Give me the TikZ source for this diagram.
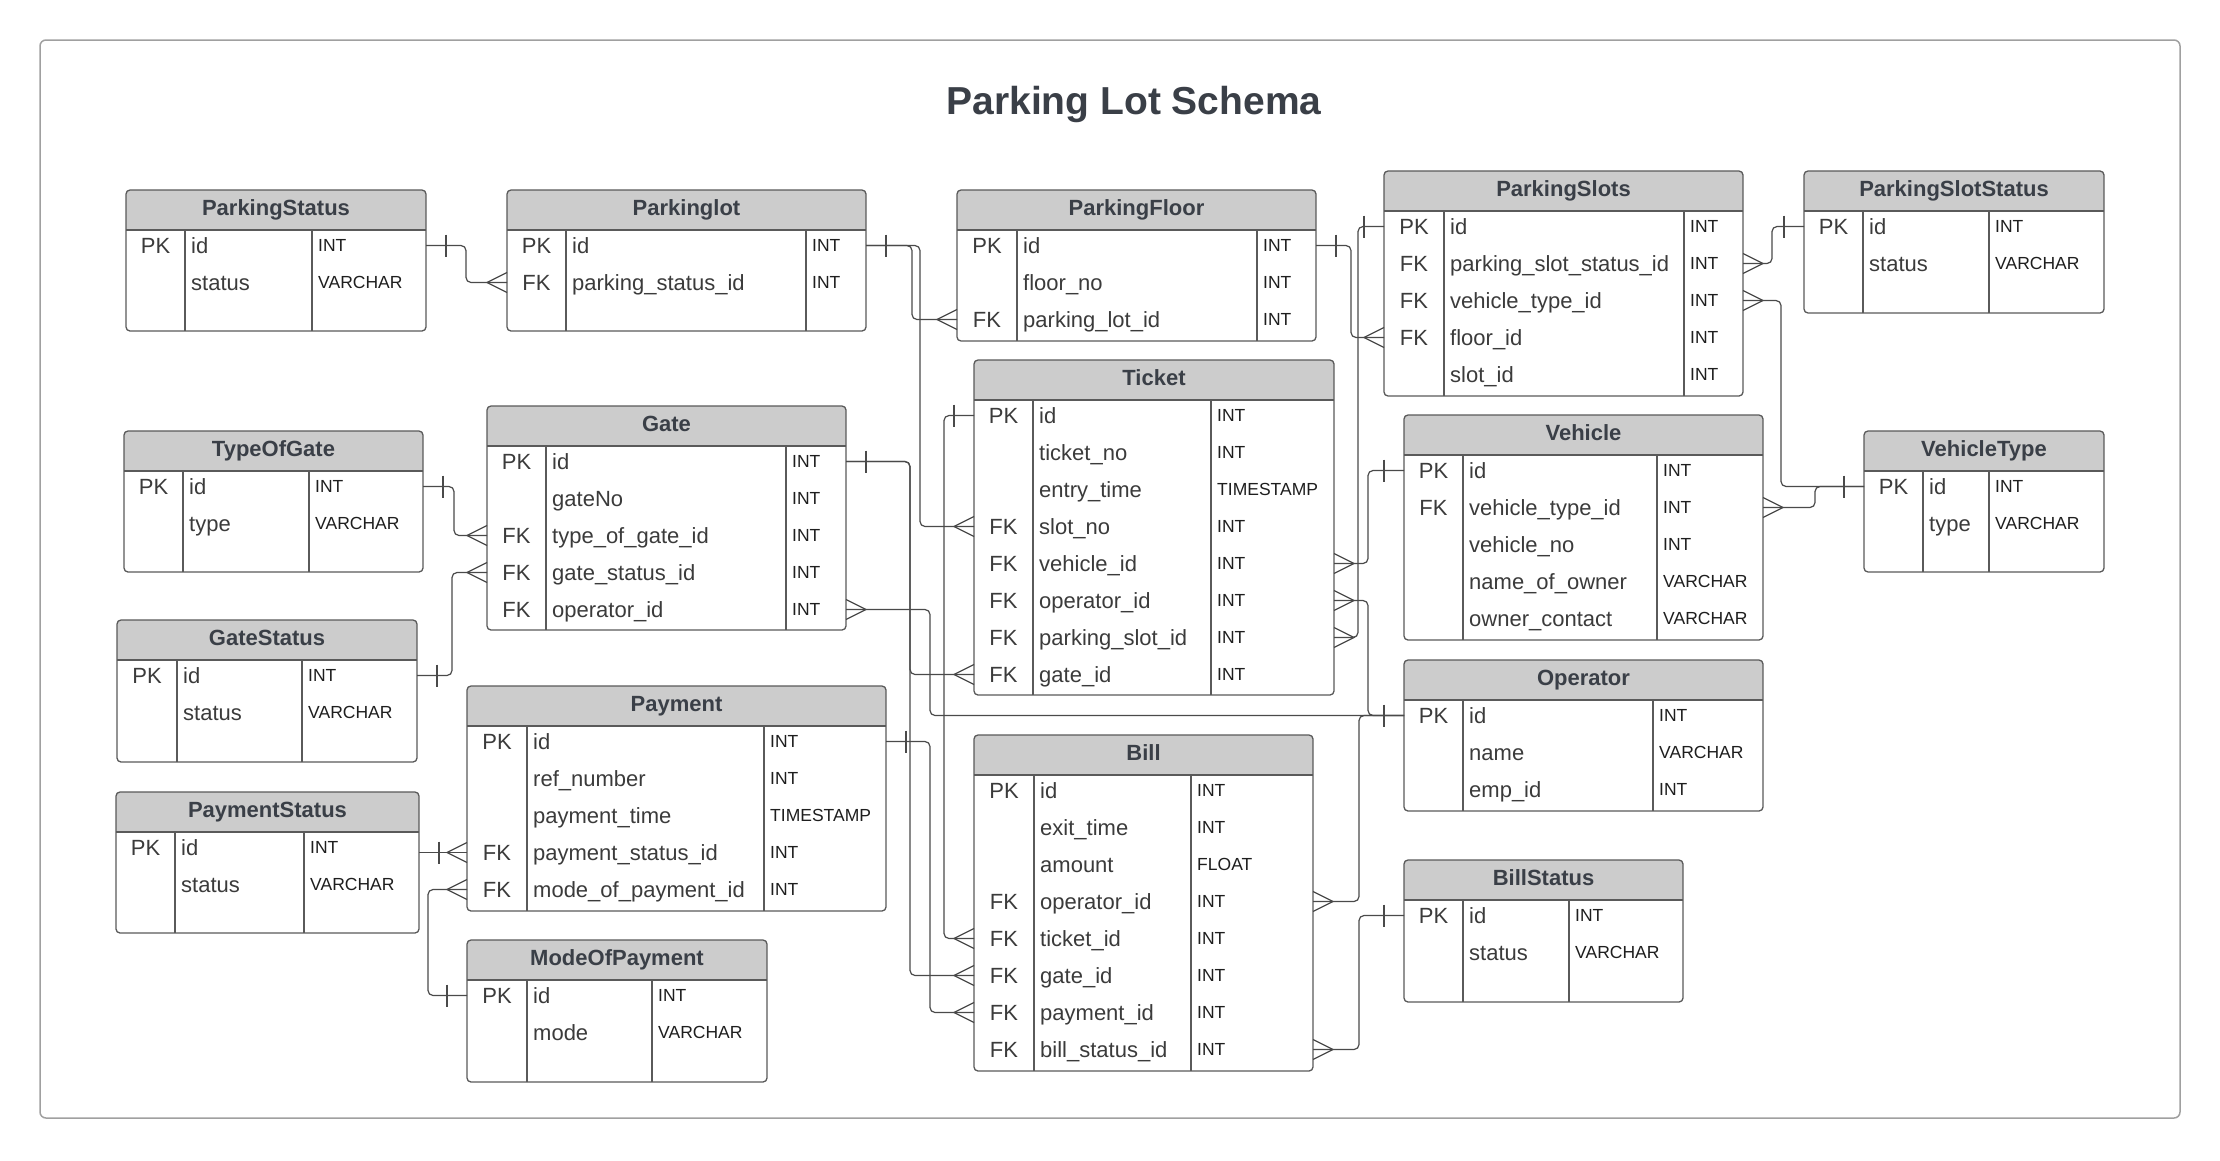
\documentclass[tikz,border=0pt]{standalone}
\usepackage{fontspec}
\setmainfont{Liberation Sans}
\definecolor{headfill}{HTML}{CCCCCC}
\definecolor{linecol}{HTML}{5A5A5A}
\definecolor{conncol}{HTML}{4A4A4A}
\definecolor{headtxtcol}{HTML}{3A3F47}
\definecolor{fldcol}{HTML}{3B3B3B}
\definecolor{typcol}{HTML}{1E1E1E}
\definecolor{framecol}{HTML}{A0A0A0}
\tikzset{
  tblbox/.style={draw=none, fill=white, inner sep=0pt, outer sep=0pt},
  tblline/.style={draw=linecol, line width=1.3pt},
  headtxt/.style={font=\fontsize{22}{26}\selectfont\bfseries, text=headtxtcol, inner sep=0pt, text height=15.8pt, text depth=0pt},
  keytxt/.style={font=\fontsize{22}{26}\selectfont, text=fldcol, inner sep=0pt, text height=15.8pt, text depth=0pt},
  fldtxt/.style={font=\fontsize{22}{26}\selectfont, text=fldcol, inner sep=0pt, text height=15.8pt, text depth=0pt, anchor=west},
  typtxt/.style={font=\fontsize{17.5}{21}\selectfont, text=typcol, inner sep=0pt, text height=12.5pt, text depth=0pt, anchor=west},
  conn/.style={draw=conncol, line width=1.2pt, rounded corners=5pt},
  marker/.style={draw=conncol, line width=1.2pt},
}
\newcommand\ertable[8]{%
  \node[tblbox, minimum width={(#4-#2)*1pt}, minimum height={(#5-#3)*1pt}] (#1) at ({(#2+#4)/2},{(#3+#5)/2}) {};
  \begin{scope}
    \clip[rounded corners=4pt] (#2,#3) rectangle (#4,#5);
    \fill[headfill] (#2,#3) rectangle (#4,#3+40);
  \end{scope}
  \draw[tblline, rounded corners=4pt] (#1.north west) rectangle (#1.south east);
  \draw[tblline] (#2,#3+40) -- (#4,#3+40) (#6,#3+40) -- (#6,#5) (#7,#3+40) -- (#7,#5);
  \node[headtxt] (#1-h) at ({(#2+#4)/2},#3+18) {#8};
  \coordinate (#1-kc) at ({(#2+#6)/2},#3+55.5);
  \coordinate (#1-fc) at (#6+6,#3+55.5);
  \coordinate (#1-tc) at (#7+6,#3+55.5);
}
\newcommand\errow[5]{%
  \node[keytxt] (#1-k#2) at ([yshift={-(#2-1)*37pt}]#1-kc) {#3};
  \node[fldtxt] (#1-f#2) at ([yshift={-(#2-1)*37pt}]#1-fc) {#4};
  \node[typtxt] (#1-t#2) at ([yshift={-(#2-1)*37pt}]#1-tc) {#5};
}
% one / many markers: #1 coordinate on box edge, #2 = +1 (east side) or -1 (west side)
\newcommand\oneat[2]{%
  \draw[marker] ([xshift={#2*20pt},yshift=11pt]#1) -- ([xshift={#2*20pt},yshift=-11pt]#1);}
\newcommand\manyat[2]{%
  \draw[marker] ([yshift=10pt]#1) -- ([xshift={#2*20pt}]#1) -- ([yshift=-10pt]#1);}
% elbow connector: #1 start, #2 lane, #3 end
\newcommand\elbow[3]{%
  \draw[conn] (#1) -- (#1 -| #2) -- (#3 -| #2) -- (#3);}
\begin{document}
\begin{tikzpicture}[x=1pt,y=-1pt]
\useasboundingbox (0,0) rectangle (2220,1160);
\fill[white] (0,0) rectangle (2220,1160);
\draw[draw=framecol, line width=1.5pt, rounded corners=6pt] (40,40) rectangle (2180,1118);
\node[font=\fontsize{39}{46}\selectfont\bfseries, text=headtxtcol, inner sep=0pt] (title) at (1134,104) {Parking Lot Schema};

% ---------------- tables ----------------
\ertable{ps}{126}{190}{426}{331}{185}{312}{ParkingStatus}
\errow{ps}{1}{PK}{id}{INT}
\errow{ps}{2}{}{status}{VARCHAR}

\ertable{pl}{507}{190}{866}{331}{566}{806}{Parkinglot}
\errow{pl}{1}{PK}{id}{INT}
\errow{pl}{2}{FK}{parking\_status\_id}{INT}

\ertable{pf}{957}{190}{1316}{341}{1017}{1257}{ParkingFloor}
\errow{pf}{1}{PK}{id}{INT}
\errow{pf}{2}{}{floor\_no}{INT}
\errow{pf}{3}{FK}{parking\_lot\_id}{INT}

\ertable{slots}{1384}{171}{1743}{396}{1444}{1684}{ParkingSlots}
\errow{slots}{1}{PK}{id}{INT}
\errow{slots}{2}{FK}{parking\_slot\_status\_id}{INT}
\errow{slots}{3}{FK}{vehicle\_type\_id}{INT}
\errow{slots}{4}{FK}{floor\_id}{INT}
\errow{slots}{5}{}{slot\_id}{INT}

\ertable{pss}{1804}{171}{2104}{313}{1863}{1989}{ParkingSlotStatus}
\errow{pss}{1}{PK}{id}{INT}
\errow{pss}{2}{}{status}{VARCHAR}

\ertable{vt}{1864}{431}{2104}{572}{1923}{1989}{VehicleType}
\errow{vt}{1}{PK}{id}{INT}
\errow{vt}{2}{}{type}{VARCHAR}

\ertable{tog}{124}{431}{423}{572}{183}{309}{TypeOfGate}
\errow{tog}{1}{PK}{id}{INT}
\errow{tog}{2}{}{type}{VARCHAR}

\ertable{gate}{487}{406}{846}{630}{546}{786}{Gate}
\errow{gate}{1}{PK}{id}{INT}
\errow{gate}{2}{}{gateNo}{INT}
\errow{gate}{3}{FK}{type\_of\_gate\_id}{INT}
\errow{gate}{4}{FK}{gate\_status\_id}{INT}
\errow{gate}{5}{FK}{operator\_id}{INT}

\ertable{gs}{117}{620}{417}{762}{177}{302}{GateStatus}
\errow{gs}{1}{PK}{id}{INT}
\errow{gs}{2}{}{status}{VARCHAR}

\ertable{tk}{974}{360}{1334}{695}{1033}{1211}{Ticket}
\errow{tk}{1}{PK}{id}{INT}
\errow{tk}{2}{}{ticket\_no}{INT}
\errow{tk}{3}{}{entry\_time}{TIMESTAMP}
\errow{tk}{4}{FK}{slot\_no}{INT}
\errow{tk}{5}{FK}{vehicle\_id}{INT}
\errow{tk}{6}{FK}{operator\_id}{INT}
\errow{tk}{7}{FK}{parking\_slot\_id}{INT}
\errow{tk}{8}{FK}{gate\_id}{INT}

\ertable{veh}{1404}{415}{1763}{640}{1463}{1657}{Vehicle}
\errow{veh}{1}{PK}{id}{INT}
\errow{veh}{2}{FK}{vehicle\_type\_id}{INT}
\errow{veh}{3}{}{vehicle\_no}{INT}
\errow{veh}{4}{}{name\_of\_owner}{VARCHAR}
\errow{veh}{5}{}{owner\_contact}{VARCHAR}

\ertable{op}{1404}{660}{1763}{811}{1463}{1653}{Operator}
\errow{op}{1}{PK}{id}{INT}
\errow{op}{2}{}{name}{VARCHAR}
\errow{op}{3}{}{emp\_id}{INT}

\ertable{pay}{467}{686}{886}{911}{527}{764}{Payment}
\errow{pay}{1}{PK}{id}{INT}
\errow{pay}{2}{}{ref\_number}{INT}
\errow{pay}{3}{}{payment\_time}{TIMESTAMP}
\errow{pay}{4}{FK}{payment\_status\_id}{INT}
\errow{pay}{5}{FK}{mode\_of\_payment\_id}{INT}

\ertable{pstat}{116}{792}{419}{933}{175}{304}{PaymentStatus}
\errow{pstat}{1}{PK}{id}{INT}
\errow{pstat}{2}{}{status}{VARCHAR}

\ertable{mop}{467}{940}{767}{1082}{527}{652}{ModeOfPayment}
\errow{mop}{1}{PK}{id}{INT}
\errow{mop}{2}{}{mode}{VARCHAR}

\ertable{bill}{974}{735}{1313}{1071}{1034}{1191}{Bill}
\errow{bill}{1}{PK}{id}{INT}
\errow{bill}{2}{}{exit\_time}{INT}
\errow{bill}{3}{}{amount}{FLOAT}
\errow{bill}{4}{FK}{operator\_id}{INT}
\errow{bill}{5}{FK}{ticket\_id}{INT}
\errow{bill}{6}{FK}{gate\_id}{INT}
\errow{bill}{7}{FK}{payment\_id}{INT}
\errow{bill}{8}{FK}{bill\_status\_id}{INT}

\ertable{bs}{1404}{860}{1683}{1002}{1463}{1569}{BillStatus}
\errow{bs}{1}{PK}{id}{INT}
\errow{bs}{2}{}{status}{VARCHAR}

% ---------------- lanes ----------------
\coordinate (L428) at (428,0);
\coordinate (L452) at (452,0);
\coordinate (L454) at (454,0);
\coordinate (L466) at (466,0);
\coordinate (L910) at (910,0);
\coordinate (L912) at (912,0);
\coordinate (L920) at (920,0);
\coordinate (L930) at (930,0);
\coordinate (L944) at (944,0);
\coordinate (L1351) at (1351,0);
\coordinate (L1358) at (1358,0);
\coordinate (L1359) at (1359,0);
\coordinate (L1368) at (1368,0);
\coordinate (L1772) at (1772,0);
\coordinate (L1781) at (1781,0);
\coordinate (L1815) at (1815,0);

% ---------------- connector end points ----------------
\coordinate (psE) at (ps.east |- ps-f1);
\coordinate (plW2) at (pl.west |- pl-f2);
\coordinate (plE) at (pl.east |- pl-f1);
\coordinate (pfW3) at (pf.west |- pf-f3);
\coordinate (pfE) at (pf.east |- pf-f1);
\coordinate (slW1) at (slots.west |- slots-f1);
\coordinate (slW4) at (slots.west |- slots-f4);
\coordinate (slE2) at (slots.east |- slots-f2);
\coordinate (slE3) at (slots.east |- slots-f3);
\coordinate (pssW) at (pss.west |- pss-f1);
\coordinate (vtW) at (vt.west |- vt-f1);
\coordinate (vehW) at (veh.west |- veh-f1);
\coordinate (vehE2) at (veh.east |- veh-f2);
\coordinate (opW) at (op.west |- op-f1);
\coordinate (bsW) at (bs.west |- bs-f1);
\coordinate (tkW1) at (tk.west |- tk-f1);
\coordinate (tkW4) at (tk.west |- tk-f4);
\coordinate (tkW8) at (tk.west |- tk-f8);
\coordinate (tkE5) at (tk.east |- tk-f5);
\coordinate (tkE6) at (tk.east |- tk-f6);
\coordinate (tkE7) at (tk.east |- tk-f7);
\coordinate (gateE1) at (gate.east |- gate-f1);
\coordinate (gateE5) at (gate.east |- gate-f5);
\coordinate (gateW3) at (gate.west |- gate-f3);
\coordinate (gateW4) at (gate.west |- gate-f4);
\coordinate (togE) at (tog.east |- tog-f1);
\coordinate (gsE) at (gs.east |- gs-f1);
\coordinate (payE1) at (pay.east |- pay-f1);
\coordinate (payW4) at (pay.west |- pay-f4);
\coordinate (payW5) at (pay.west |- pay-f5);
\coordinate (pstatE) at (pstat.east |- pay-f4);
\coordinate (mopW) at (mop.west |- mop-f1);
\coordinate (billE4) at (bill.east |- bill-f4);
\coordinate (billE8) at (bill.east |- bill-f8);
\coordinate (billW5) at (bill.west |- bill-f5);
\coordinate (billW6) at (bill.west |- bill-f6);
\coordinate (billW7) at (bill.west |- bill-f7);

% ---------------- connectors ----------------
% ParkingStatus -> Parkinglot
\elbow{psE}{L466}{plW2} \oneat{psE}{1} \manyat{plW2}{-1}
% Parkinglot -> ParkingFloor, Ticket.slot_no
\elbow{plE}{L912}{pfW3} \elbow{plE}{L920}{tkW4}
\oneat{plE}{1} \manyat{pfW3}{-1} \manyat{tkW4}{-1}
% ParkingFloor -> ParkingSlots.floor_id
\elbow{pfE}{L1351}{slW4} \oneat{pfE}{1} \manyat{slW4}{-1}
% ParkingSlots -> Ticket.parking_slot_id
\elbow{slW1}{L1358}{tkE7} \oneat{slW1}{-1} \manyat{tkE7}{1}
% ParkingSlotStatus -> ParkingSlots
\elbow{pssW}{L1772}{slE2} \oneat{pssW}{-1} \manyat{slE2}{1}
% VehicleType -> ParkingSlots, Vehicle
\elbow{vtW}{L1781}{slE3} \elbow{vtW}{L1815}{vehE2}
\oneat{vtW}{-1} \manyat{slE3}{1} \manyat{vehE2}{1}
% Vehicle -> Ticket.vehicle_id
\elbow{vehW}{L1368}{tkE5} \oneat{vehW}{-1} \manyat{tkE5}{1}
% Operator -> Ticket, Gate, Bill
\elbow{opW}{L1368}{tkE6} \elbow{opW}{L930}{gateE5} \elbow{opW}{L1359}{billE4}
\oneat{opW}{-1} \manyat{tkE6}{1} \manyat{gateE5}{1} \manyat{billE4}{1}
% BillStatus -> Bill
\elbow{bsW}{L1359}{billE8} \oneat{bsW}{-1} \manyat{billE8}{1}
% Ticket -> Bill.ticket_id
\elbow{tkW1}{L944}{billW5} \oneat{tkW1}{-1} \manyat{billW5}{-1}
% Gate -> Ticket.gate_id, Bill.gate_id
\elbow{gateE1}{L910}{tkW8} \elbow{gateE1}{L910}{billW6}
\oneat{gateE1}{1} \manyat{tkW8}{-1} \manyat{billW6}{-1}
% Payment -> Bill.payment_id
\elbow{payE1}{L930}{billW7} \oneat{payE1}{1} \manyat{billW7}{-1}
% PaymentStatus -> Payment
\draw[conn] (pstatE) -- (payW4); \oneat{pstatE}{1} \manyat{payW4}{-1}
% ModeOfPayment -> Payment
\elbow{mopW}{L428}{payW5} \oneat{mopW}{-1} \manyat{payW5}{-1}
% TypeOfGate -> Gate
\elbow{togE}{L454}{gateW3} \oneat{togE}{1} \manyat{gateW3}{-1}
% GateStatus -> Gate
\elbow{gsE}{L452}{gateW4} \oneat{gsE}{1} \manyat{gateW4}{-1}
\end{tikzpicture}
\end{document}
